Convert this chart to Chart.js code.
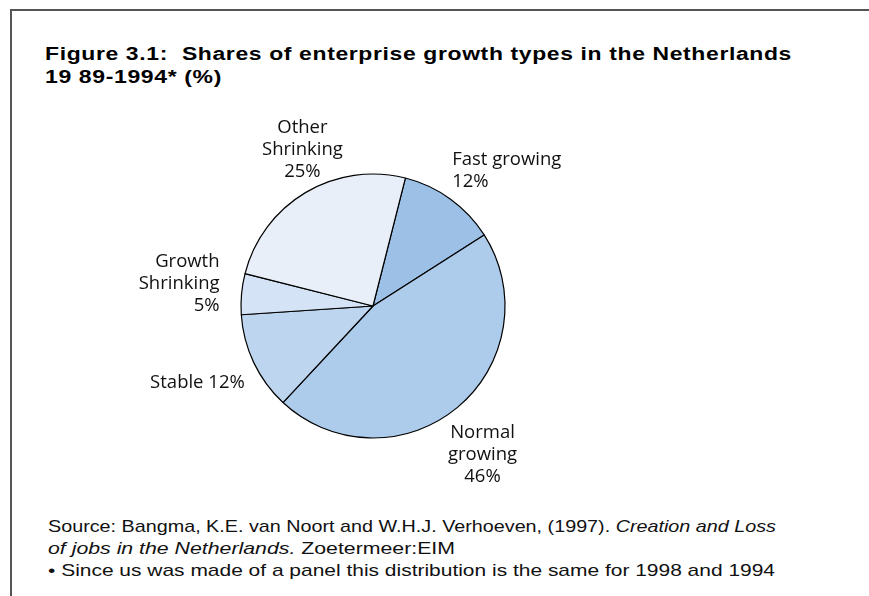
<!DOCTYPE html>
<html>
<head>
<meta charset="utf-8">
<script src="https://cdn.jsdelivr.net/npm/chart.js@4/dist/chart.umd.min.js"></script>
<style>
  html, body { margin: 0; padding: 0; background: #fff; }
  #wrap { position: relative; width: 869px; height: 596px; overflow: hidden; }
  #frame { position: absolute; left: 10px; top: 9px; width: 900px; height: 700px;
           border-top: 2px solid #555; border-left: 2px solid #555; }
  .tl { position: absolute; left: 45px; font-family: "Liberation Sans", Arial, sans-serif;
        font-weight: bold; font-size: 18px; line-height: 23px; letter-spacing: 0.5px; color: #000;
        white-space: pre; transform-origin: 0 0; }
  .fl { position: absolute; left: 48px; font-family: "Liberation Sans", Arial, sans-serif;
        font-size: 17px; line-height: 22px; color: #111; white-space: pre; transform-origin: 0 0; }
  canvas { position: absolute; left: 0; top: 0; }
</style>
</head>
<body>
<div id="wrap">
  <div id="frame"></div>
  <div class="tl" style="top:43px" data-w="747">Figure 3.1:  Shares of enterprise growth types in the Netherlands</div>
  <div class="tl" style="top:66px" data-w="177">19 89-1994* (%)</div>
  <div class="fl" style="top:516px" data-w="728">Source: Bangma, K.E. van Noort and W.H.J. Verhoeven, (1997). <i>Creation and Loss</i></div>
  <div class="fl" style="top:538px" data-w="407"><i>of jobs in the Netherlands.</i> Zoetermeer:EIM</div>
  <div class="fl" style="top:560px" data-w="727">• Since us was made of a panel this distribution is the same for 1998 and 1994</div>
  <canvas id="c" width="869" height="596"></canvas>
</div>
<script>
// ---- data ----
const categories = ["Fast growing", "Normal growing", "Stable", "Growth Shrinking", "Other Shrinking"];
const shares = [12, 46, 12, 5, 25];
const sliceColors = ["#9dc0e6", "#adcbea", "#bed5ef", "#d4e3f5", "#e8eff9"];

// fit text line widths to the reference (styling only)
document.querySelectorAll(".tl, .fl").forEach(el => {
  const w = el.getBoundingClientRect().width;
  const target = +el.dataset.w;
  el.style.transform = "scaleX(" + (target / w) + ")";
});

// label layout (style): line breaks, alignment and offset from slice edge
const labelLayout = [
  { lines: ["Fast growing", "{p}"], align: "left", dx: 2, dy: -28 },
  { lines: ["Normal", "growing", "{p}"], align: "center", dx: 25, dy: 47 },
  { lines: ["Stable {p}"], align: "right", dx: -9, dy: 20 },
  { lines: ["Growth", "Shrinking", "{p}"], align: "right", dx: -22, dy: -10 },
  { lines: ["Other", "Shrinking", "{p}"], align: "center", dx: -3, dy: -43 }
];

const labelPlugin = {
  id: "sliceLabels",
  afterDatasetsDraw(chart) {
    const ctx = chart.ctx;
    const meta = chart.getDatasetMeta(0);
    ctx.save();
    ctx.font = '18.5px "Open Sans", "Noto Sans", sans-serif';
    ctx.fillStyle = "#111";
    ctx.textBaseline = "middle";
    const lh = 22;
    meta.data.forEach((arc, i) => {
      const p = arc.getProps(["x", "y", "startAngle", "endAngle", "outerRadius"], true);
      const mid = (p.startAngle + p.endAngle) / 2;
      const ex = p.x + Math.cos(mid) * p.outerRadius;
      const ey = p.y + Math.sin(mid) * p.outerRadius;
      const L = labelLayout[i];
      const lines = L.lines.map(s => s.replace("{p}", shares[i] + "%"));
      const cx = ex + L.dx, cy = ey + L.dy;
      ctx.textAlign = L.align;
      const top = cy - (lines.length - 1) * lh / 2;
      lines.forEach((t, k) => ctx.fillText(t, cx, top + k * lh));
    });
    ctx.restore();
  }
};

new Chart(document.getElementById("c"), {
  type: "pie",
  data: {
    labels: categories,
    datasets: [{
      data: shares,
      backgroundColor: sliceColors,
      borderColor: "#000",
      borderWidth: 1.2,
      radius: 132
    }]
  },
  options: {
    responsive: false,
    animation: false,
    rotation: 14.2,
    layout: { padding: { left: 0, right: 123, top: 16, bottom: 0 } },
    plugins: { legend: { display: false }, tooltip: { enabled: false }, title: { display: false } },
    events: []
  },
  plugins: [labelPlugin]
});
</script>
</body>
</html>
